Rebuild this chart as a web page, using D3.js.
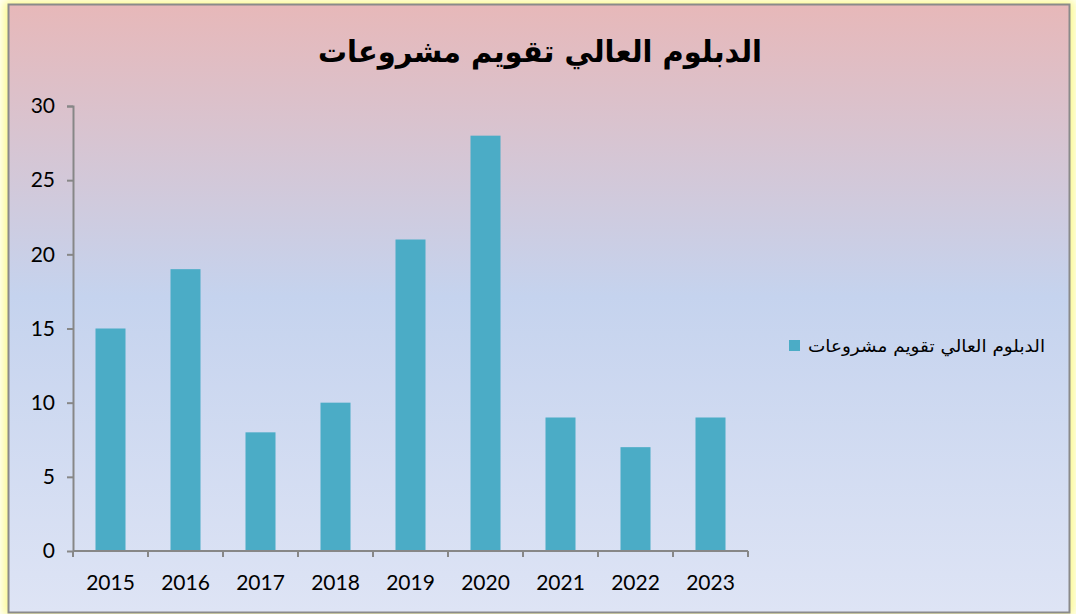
<!DOCTYPE html>
<html>
<head>
<meta charset="utf-8">
<script src="https://cdn.jsdelivr.net/npm/d3@7"></script>
<style>
  body { margin: 0; background: #fffff4; }
  svg { display: block; }
</style>
</head>
<body>
<svg></svg>
<script>
// data
var years = ["2015", "2016", "2017", "2018", "2019", "2020", "2021", "2022", "2023"]
var values = [15, 19, 8, 10, 21, 28, 9, 7, 9]
var yTicks = [0, 5, 10, 15, 20, 25, 30]
var seriesName = "الدبلوم العالي تقويم مشروعات"
var title = "الدبلوم العالي تقويم مشروعات"

var width = 1076, height = 614
var svg = d3.select("svg")
    .attr("width", width)
    .attr("height", height)

var defs = svg.append("defs")
var grad = defs.append("linearGradient")
    .attr("id", "bg").attr("x1", 0).attr("y1", 0).attr("x2", 0).attr("y2", 1)
grad.append("stop").attr("offset", "0%").attr("stop-color", "#e7b8b9")
grad.append("stop").attr("offset", "48%").attr("stop-color", "#c5d3ee")
grad.append("stop").attr("offset", "100%").attr("stop-color", "#dee4f5")

var glow = defs.append("filter").attr("id", "glow")
    .attr("x", "-5%").attr("y", "-5%").attr("width", "110%").attr("height", "110%")
glow.append("feGaussianBlur").attr("stdDeviation", 5)

// yellow glow behind the frame
svg.append("rect")
    .attr("x", 4).attr("y", 1).attr("width", 1070).attr("height", 614)
    .attr("fill", "#fbf98a")
    .attr("filter", "url(#glow)")

// chart frame
svg.append("rect")
    .attr("x", 8.5).attr("y", 4.5).attr("width", 1061).attr("height", 608)
    .attr("fill", "url(#bg)")
    .attr("stroke", "#8a8a8a")
    .attr("stroke-width", 2)

svg.append("text")
    .attr("x", 540).attr("y", 62)
    .attr("text-anchor", "middle")
    .attr("direction", "rtl")
    .style("font-family", "DejaVu Sans, Arial, sans-serif")
    .style("font-weight", "bold")
    .style("font-size", "30px")
    .attr("textLength", 444)
    .attr("lengthAdjust", "spacingAndGlyphs")
    .text(title)

var margin = {left: 73, top: 106}
var plotW = 675, plotH = 445

var graph = svg.append("g")
    .attr("transform", `translate(${margin.left}, ${margin.top})`)

var scX = d3.scaleBand()
    .domain(years)
    .range([0, plotW])
    .paddingInner(0.6)
    .paddingOuter(0.3)

var scY = d3.scaleLinear()
    .domain([0, 30])
    .range([plotH, 0])

graph.selectAll("rect.bar")
    .data(values)
    .enter().append("rect")
    .attr("class", "bar")
    .attr("x", (d, i) => scX(years[i]))
    .attr("y", d => scY(d))
    .attr("width", scX.bandwidth())
    .attr("height", d => plotH - scY(d))
    .attr("fill", "#4bacc6")

var yAxis = d3.axisLeft(scY).tickValues(yTicks).tickSize(6).tickPadding(12)
var yAxisGroup = graph.append("g").call(yAxis)

// x axis: ticks at the category boundaries, labels centred under bars
var bounds = d3.range(years.length + 1).map(i => i * scX.step())
var xAxisGroup = graph.append("g")
    .attr("transform", `translate(0, ${plotH})`)
xAxisGroup.append("line")
    .attr("x1", 0).attr("x2", plotW)
xAxisGroup.selectAll("line.tick")
    .data(bounds)
    .enter().append("line")
    .attr("class", "tick")
    .attr("x1", d => d).attr("x2", d => d)
    .attr("y1", 0).attr("y2", 6)
xAxisGroup.selectAll("text")
    .data(years)
    .enter().append("text")
    .attr("x", d => scX(d) + scX.bandwidth() / 2)
    .attr("y", 39)
    .attr("text-anchor", "middle")
    .text(d => d)

graph.selectAll("line, path.domain")
    .attr("stroke", "#878787")
    .attr("stroke-width", 2)
    .attr("fill", "none")
yAxisGroup.selectAll("text").attr("fill", "#000")
graph.selectAll("text")
    .style("font-family", "Lato, Carlito, sans-serif")
    .style("font-size", "21px")
yAxisGroup.select(".domain").attr("d", `M-6,0.5H0.5V${plotH}`)

// legend
var legend = svg.append("g")
legend.append("rect")
    .attr("x", 789).attr("y", 340).attr("width", 11).attr("height", 11)
    .attr("fill", "#4bacc6")
legend.append("text")
    .attr("x", 1045).attr("y", 352)
    .attr("text-anchor", "start")
    .attr("direction", "rtl")
    .style("font-family", "DejaVu Sans, Arial, sans-serif")
    .style("font-size", "17px")
    .attr("textLength", 237)
    .attr("lengthAdjust", "spacingAndGlyphs")
    .text(seriesName)
</script>
</body>
</html>
